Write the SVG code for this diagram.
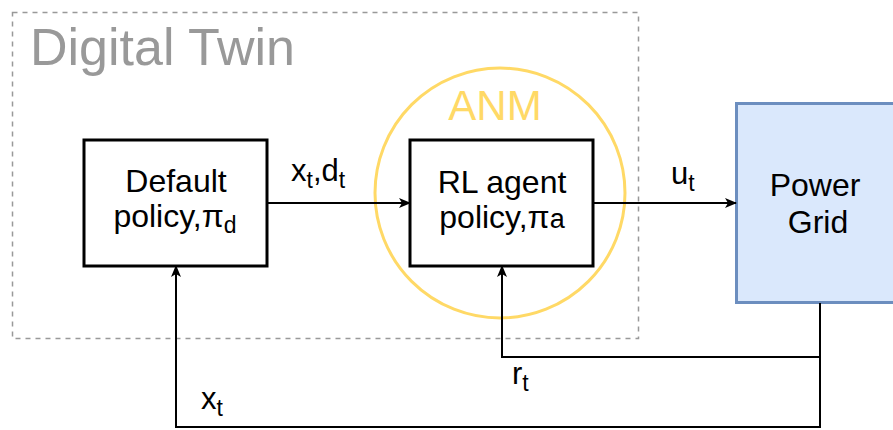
<svg xmlns="http://www.w3.org/2000/svg" width="893" height="430" viewBox="0 0 893 430">
  <style>
    text { font-family: "Liberation Sans", Arial, sans-serif; fill: #000; }
    .box { fill: #fff; stroke: #000; stroke-width: 3; }
    .wire { fill: none; stroke: #000; stroke-width: 2; }
    .lbl { font-size: 32px; }
    .edge { font-size: 31px; }
    .sub { font-size: 23px; }
  </style>
  <defs>
    <marker id="arrow" viewBox="0 0 12 10" refX="11" refY="5" markerWidth="12" markerHeight="10" markerUnits="userSpaceOnUse" orient="auto">
      <path d="M0,0 L12,5 L0,10 L3,5 Z" fill="#000"/>
    </marker>
  </defs>

  <!-- digital twin boundary -->
  <g id="digital-twin">
    <rect x="12.5" y="12.5" width="626" height="326" fill="none" stroke="#999" stroke-width="1.5" stroke-dasharray="5 5"/>
    <text x="30" y="65" style="font-size:52px; fill:#999">Digital Twin</text>
  </g>

  <!-- ANM ring -->
  <g id="anm">
    <circle cx="500" cy="193" r="125" fill="none" stroke="#FFD966" stroke-width="3"/>
    <text x="495" y="120" text-anchor="middle" style="font-size:42px; fill:#FFD966">ANM</text>
  </g>

  <g id="default-policy">
    <rect class="box" x="84" y="140" width="183" height="126"/>
    <text class="lbl" x="176" y="192" text-anchor="middle">Default</text>
    <text class="lbl" x="175" y="227" text-anchor="middle">policy,π<tspan class="sub" dy="6">d</tspan></text>
  </g>

  <g id="rl-agent">
    <rect class="box" x="410" y="140" width="183" height="126"/>
    <text class="lbl" x="502" y="193" text-anchor="middle">RL agent</text>
    <text class="lbl" x="502" y="228" text-anchor="middle">policy,π<tspan style="font-size:27px">a</tspan></text>
  </g>

  <g id="power-grid">
    <rect x="736.5" y="103.5" width="160" height="199" fill="#dae8fc" stroke="#6c8ebf" stroke-width="3"/>
    <text class="lbl" x="815" y="196" text-anchor="middle">Power</text>
    <text class="lbl" x="818" y="233" text-anchor="middle">Grid</text>
  </g>

  <g id="connectors">
    <path class="wire" d="M267,203 H410" marker-end="url(#arrow)"/>
    <path class="wire" d="M593,203 H736" marker-end="url(#arrow)"/>
    <path class="wire" d="M820,303 V357 H502 V266" marker-end="url(#arrow)"/>
    <path class="wire" d="M820,357 V427 H176 V266" marker-end="url(#arrow)"/>
  </g>

  <g id="edge-labels">
    <text class="edge" x="291" y="181">x<tspan class="sub" dy="7">t</tspan><tspan dy="-7">,d</tspan><tspan class="sub" dy="7">t</tspan></text>
    <text class="edge" x="671" y="184">u<tspan class="sub" dy="7">t</tspan></text>
    <text class="edge" x="512" y="384">r<tspan class="sub" dy="7">t</tspan></text>
    <text class="edge" x="201" y="409">x<tspan class="sub" dy="7">t</tspan></text>
  </g>
</svg>
